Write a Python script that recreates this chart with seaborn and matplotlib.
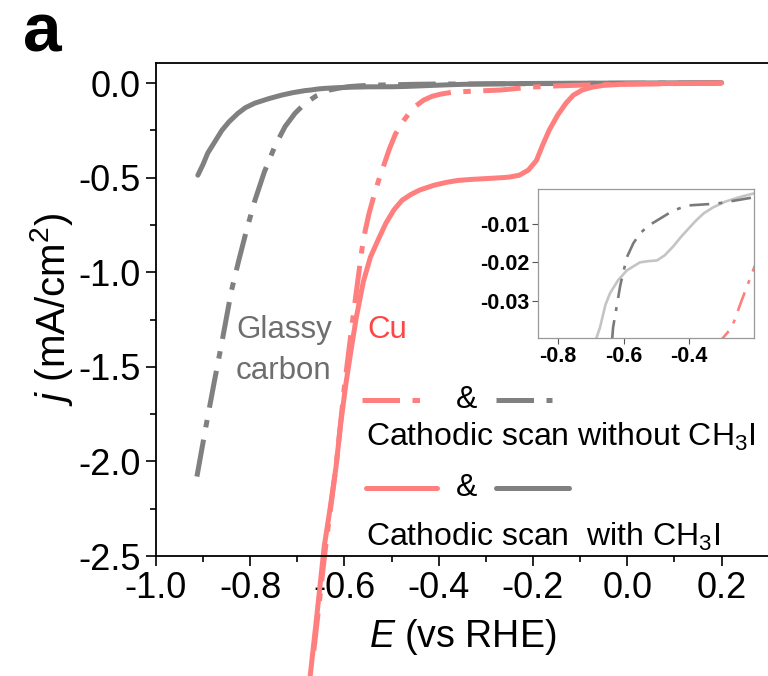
import matplotlib
matplotlib.use("Agg")
import numpy as np
import pandas as pd
import seaborn as sns
import matplotlib.pyplot as plt

# potentials (V vs RHE) and current densities (mA/cm2)
gc_with_E = [-0.911, -0.90, -0.89, -0.875, -0.86, -0.845, -0.826, -0.81, -0.79, -0.76,
             -0.732, -0.71, -0.684, -0.672, -0.655, -0.641, -0.617, -0.59, -0.55, -0.525,
             -0.498, -0.475, -0.45, -0.425, -0.407, -0.38, -0.355, -0.327, -0.29, -0.25,
             -0.205, -0.1, 0.0, 0.2]
gc_with_j = [-0.487, -0.43, -0.37, -0.31, -0.25, -0.205, -0.16, -0.13, -0.106, -0.082,
             -0.063, -0.051, -0.040, -0.037, -0.031, -0.028, -0.0247, -0.0221, -0.0200, -0.0197,
             -0.0195, -0.0182, -0.0160, -0.0134, -0.0117, -0.0092, -0.0072, -0.0057, -0.0042, -0.0031,
             -0.0021, -0.0008, 0.0, 0.002]

gc_without_E = [-0.913, -0.895, -0.877, -0.86, -0.84, -0.825, -0.808, -0.79, -0.77, -0.747,
                -0.726, -0.705, -0.684, -0.66, -0.632, -0.61, -0.59, -0.57, -0.55, -0.525,
                -0.498, -0.45, -0.407, -0.315, -0.205, 0.0, 0.2]
gc_without_j = [-2.08, -1.83, -1.59, -1.37, -1.10, -0.945, -0.78, -0.62, -0.47, -0.33,
                 -0.23, -0.16, -0.108, -0.068, -0.037, -0.026, -0.0187, -0.0150, -0.0125, -0.0105,
                 -0.0091, -0.0066, -0.0052, -0.0047, -0.0031, -0.001, 0.0]

cu_with_E = [-0.673, -0.658, -0.643, -0.63, -0.618, -0.608, -0.597, -0.586, -0.575, -0.56,
             -0.545, -0.527, -0.512, -0.495, -0.478, -0.46, -0.44, -0.41, -0.384, -0.36,
             -0.335, -0.30, -0.265, -0.25, -0.229, -0.21, -0.193, -0.18, -0.166, -0.148,
             -0.13, -0.115, -0.096, -0.075, -0.05, 0.0, 0.1, 0.2]
cu_with_j = [-3.14, -2.80, -2.45, -2.24, -2.03, -1.80, -1.59, -1.41, -1.24, -1.05,
             -0.92, -0.82, -0.74, -0.67, -0.62, -0.59, -0.565, -0.54, -0.525, -0.515,
             -0.51, -0.505, -0.50, -0.497, -0.487, -0.46, -0.41, -0.33, -0.25, -0.17,
             -0.106, -0.065, -0.037, -0.022, -0.012, -0.005, -0.002, 0.0]

cu_without_E = [-0.665, -0.64, -0.618, -0.60, -0.58, -0.563, -0.556, -0.548, -0.538, -0.527,
                -0.516, -0.505, -0.492, -0.478, -0.463, -0.448, -0.432, -0.414, -0.395, -0.37,
                -0.32, -0.27, -0.24, -0.20, -0.15, -0.10, 0.0, 0.1, 0.2]
cu_without_j = [-3.0, -2.45, -2.03, -1.6, -1.2, -0.88, -0.78, -0.69, -0.60, -0.51,
                -0.43, -0.35, -0.27, -0.21, -0.16, -0.12, -0.09, -0.07, -0.058, -0.048,
                -0.042, -0.037, -0.030, -0.021, -0.015, -0.011, -0.006, -0.003, -0.001]

x_ticks = [-1.0, -0.8, -0.6, -0.4, -0.2, 0.0, 0.2]
y_ticks = [0.0, -0.5, -1.0, -1.5, -2.0, -2.5]
inset_x_ticks = [-0.8, -0.6, -0.4]
inset_y_ticks = [-0.01, -0.02, -0.03]

RED = "#ff7f7f"
GRAY = "#808080"
DASHDOT = (0, (7.5, 2.5, 1.5, 2.5))

sns.set_style("ticks")
plt.rcParams["font.family"] = ["Liberation Sans", "DejaVu Sans"]
plt.rcParams["mathtext.fontset"] = "custom"
plt.rcParams["mathtext.rm"] = "Liberation Sans"
plt.rcParams["mathtext.it"] = "Liberation Sans:italic"
plt.rcParams["text.color"] = "black"
plt.rcParams["axes.labelcolor"] = "black"
plt.rcParams["xtick.color"] = "black"
plt.rcParams["ytick.color"] = "black"

fig = plt.figure(figsize=(7.68, 6.76), dpi=100)
ax = fig.add_axes([0.203, 0.1775, 0.798, 0.7293])

curves = [
    (gc_with_E, gc_with_j, GRAY, "-"),
    (gc_without_E, gc_without_j, GRAY, DASHDOT),
    (cu_with_E, cu_with_j, RED, "-"),
    (cu_without_E, cu_without_j, RED, DASHDOT),
]
for E, j, c, ls in curves:
    df = pd.DataFrame({"E": E, "j": j})
    sns.lineplot(data=df, x="E", y="j", ax=ax, color=c, lw=3.6, linestyle=ls,
                 clip_on=False, sort=False)

ax.set_xlim(-1.0, 0.3)
ax.set_ylim(-2.5, 0.106)
ax.set_xticks(x_ticks)
ax.set_yticks(y_ticks)
ax.set_xticklabels([f"{t:.1f}" for t in x_ticks])
ax.set_yticklabels([f"{t:.1f}" for t in y_ticks])
ax.set_xticks(np.arange(-0.9, 0.3, 0.2), minor=True)
ax.set_yticks(np.arange(-2.25, 0.0, 0.5), minor=True)
ax.tick_params(which="major", direction="out", length=7, width=1.2, labelsize=26, pad=4)
ax.tick_params(which="minor", direction="out", length=4, width=1.2)
for s in ax.spines.values():
    s.set_linewidth(1.3)
    s.set_color("black")
ax.set_xlabel("$\\it{E}$ (vs RHE)", fontsize=27, labelpad=8)
ax.set_ylabel("$\\it{j}$ (mA/cm$^2$)", fontsize=29, labelpad=2)

# curve annotations
ax.text(-0.83, -1.307, "Glassy", color="#6e6e6e", fontsize=22.5, va="center", ha="left")
ax.text(-0.83, -1.52, "carbon", color="#6e6e6e", fontsize=22.5, va="center", ha="left")
ax.text(-0.552, -1.307, "Cu", color="#ff4545", fontsize=22.5, va="center", ha="left")

# hand-drawn legend
ax.plot([-0.563, -0.429], [-1.677, -1.677], color=RED, lw=3.6, linestyle=DASHDOT)
ax.plot([-0.278, -0.159], [-1.677, -1.677], color=GRAY, lw=3.6, linestyle=DASHDOT)
ax.text(-0.342, -1.677, "&", fontsize=23, ha="center", va="center")
ax.text(-0.554, -1.873, "Cathodic scan without CH$_3$I", fontsize=23, ha="left", va="center")
ax.plot([-0.554, -0.403], [-2.138, -2.138], color=RED, lw=3.6)
ax.plot([-0.278, -0.123], [-2.138, -2.138], color=GRAY, lw=3.6)
ax.text(-0.342, -2.138, "&", fontsize=23, ha="center", va="center")
ax.text(-0.554, -2.40, "Cathodic scan  with CH$_3$I", fontsize=23, ha="left", va="center")

# inset
ins = fig.add_axes([0.7005, 0.5, 0.2813, 0.2204])
ins.set_facecolor("white")
inset_curves = [
    (gc_with_E, gc_with_j, "#c4c4c4", "-"),
    (gc_without_E, gc_without_j, "#7a7a7a", (0, (7.5, 3.5, 1.5, 3.5))),
    (cu_without_E, cu_without_j, RED, (0, (7.5, 3.5, 1.5, 3.5))),
]
for E, j, c, ls in inset_curves:
    sns.lineplot(x=E, y=j, ax=ins, color=c, lw=1.9, linestyle=ls, sort=False)
ins.set_xlim(-0.861, -0.202)
ins.set_ylim(-0.0397, -0.0009)
ins.set_xticks(inset_x_ticks)
ins.set_yticks(inset_y_ticks)
ins.set_xticklabels([f"{t:.1f}" for t in inset_x_ticks], fontweight="bold")
ins.set_yticklabels([f"{t:.2f}" for t in inset_y_ticks], fontweight="bold")
ins.tick_params(direction="out", length=4, width=0.8, labelsize=15.5, pad=2, color="#555555")
for s in ins.spines.values():
    s.set_linewidth(0.9)
    s.set_color("#999999")
ins.set_xlabel("")
ins.set_ylabel("")

fig.text(0.03, 0.95, "a", fontsize=50, fontweight="bold", ha="left", va="center")

fig.savefig("out.png", dpi=100)
